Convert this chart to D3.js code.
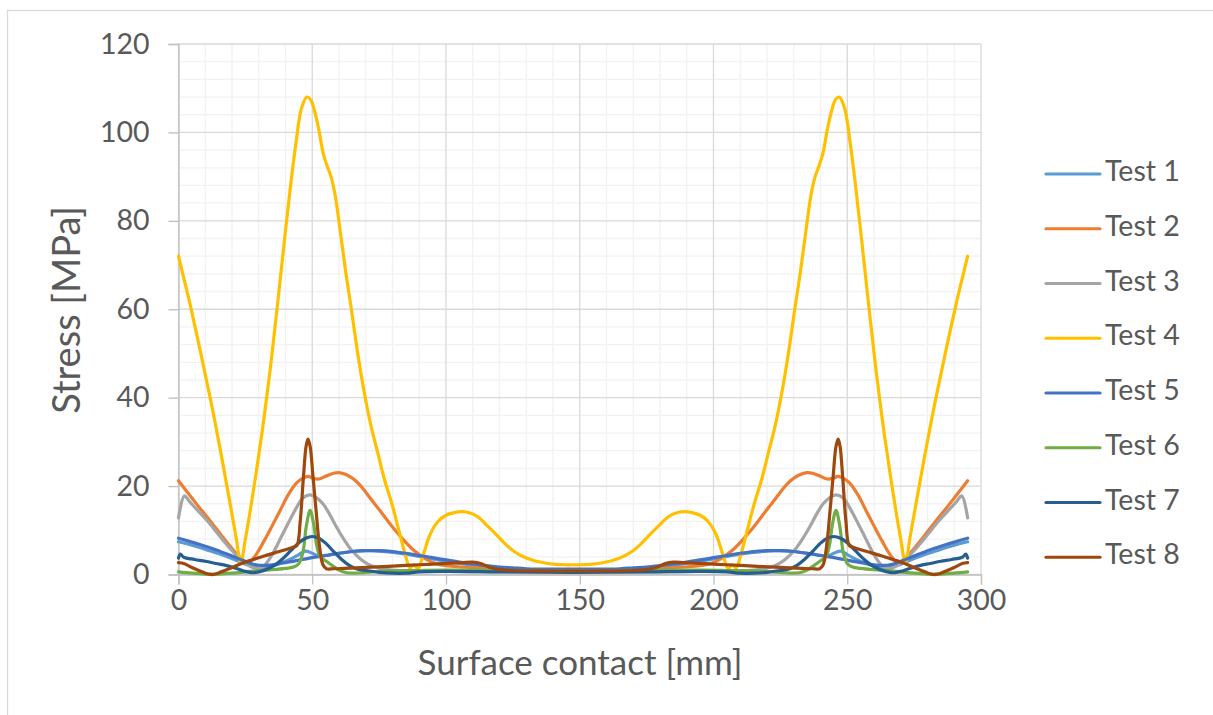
<!DOCTYPE html>
<html><head><meta charset="utf-8">
<script src="https://cdn.jsdelivr.net/npm/d3@7"></script>
<style>body{margin:0;background:#fff;} text{font-family:Lato,"Open Sans",sans-serif;fill:#595959;}</style>
</head><body>
<svg id="chart" width="1213" height="715"></svg>
<script>
const seriesNames = ["Test 1","Test 2","Test 3","Test 4","Test 5","Test 6","Test 7","Test 8"];
const seriesColors = ["#5B9BD5","#ED7D31","#A5A5A5","#FFC000","#4472C4","#70AD47","#255E91","#9E480E"];
const xTicks = [0,50,100,150,200,250,300];
const yTicks = [0,20,40,60,80,100,120];
const xTitle = "Surface contact [mm]";
const yTitle = "Stress [MPa]";

const test1 = [[0,7.4],[4,6.8],[8,6.1],[12,5.3],[16,4.5],[20,3.6],[24,2.6],[27,1.9],[30,1.5],[34,1.8],[38,2.5],[42,3.5],[45,4.5],[47.5,5.3],[50,4.8],[52.5,4.2],[56,4.4],[60,4.8],[65,5.2],[70,5.4],[75,5.3],[80,5],[85,4.6],[90,4.1],[95,3.5],[100,3],[105,2.5],[110,2.1],[115,1.7],[120,1.4],[125,1.2],[130,1],[140,0.9],[147.5,0.9],
[155,0.9],[165,1],[170,1.2],[175,1.4],[180,1.7],[185,2.1],[190,2.5],[195,3],[200,3.5],[205,4.1],[210,4.6],[215,5],[220,5.3],[225,5.4],[230,5.2],[235,4.8],[239,4.4],[242.5,4.2],[245,4.8],[247.5,5.3],[250,4.5],[253,3.5],[257,2.5],[261,1.8],[265,1.5],[268,1.9],[271,2.6],[275,3.6],[279,4.5],[283,5.3],[287,6.1],[291,6.8],[295,7.4]];

const test2 = [[0,21.2],[4,18.1],[8,15],[12,12],[16,8.9],[20,5.9],[23,3.8],[26,2.6],[29,4.5],[32,7.6],[35,11],[38,14.5],[41,18],[44,20.6],[46.5,21.8],[48.5,22.2],[50.5,21.7],[52.5,21.6],[55,22.2],[58,22.9],[60.5,23],[63,22.5],[66,21.3],[69,19.4],[72,17],[75,14.7],[78,12.3],[81,10],[84,7.9],[87,6],[90,4.5],[93,3.3],[96,2.5],[100,2],[106,1.7],[112,1.5],[120,1.2],[130,1],[140,0.9],[147.5,0.9],
[155,0.9],[165,1],[175,1.2],[183,1.5],[189,1.7],[195,2],[199,2.5],[202,3.3],[205,4.5],[208,6],[211,7.9],[214,10],[217,12.3],[220,14.7],[223,17],[226,19.4],[229,21.3],[232,22.5],[234.5,23],[237,22.9],[240,22.2],[242.5,21.6],[244.5,21.7],[246.5,22.2],[248.5,21.8],[251,20.6],[254,18],[257,14.5],[260,11],[263,7.6],[266,4.5],[269,2.6],[272,3.8],[275,5.9],[279,8.9],[283,12],[287,15],[291,18.1],[295,21.2]];

const test3 = [[0,12.8],[2.2,17.8],[4,16.6],[7,14.6],[11,12],[15,9],[18,6.8],[21,4.8],[24,3.2],[27,1.8],[29.5,1.3],[32,2],[35,4.5],[38,8],[41,11.6],[44,15],[46.5,17.3],[49,18],[51.5,17.4],[54,16],[56.5,13.6],[59,10.8],[62,7.8],[65,5.3],[68,3.5],[71,2.3],[75,1.4],[80,1],[90,0.8],[100,0.7],[120,0.6],[147.5,0.5],
[175,0.6],[195,0.7],[205,0.8],[215,1],[220,1.4],[224,2.3],[227,3.5],[230,5.3],[233,7.8],[236,10.8],[238.5,13.6],[241,16],[243.5,17.4],[246,18],[248.5,17.3],[251,15],[254,11.6],[257,8],[260,4.5],[263,2],[265.5,1.3],[268,1.8],[271,3.2],[274,4.8],[277,6.8],[280,9],[284,12],[288,14.6],[291,16.6],[292.8,17.8],[295,12.8]];

const test4 = [[0,72],[2,67],[4,62],[8,51],[12,39.5],[16,27],[19,17],[21.5,8.5],[23.3,2.6],[25,8],[27.5,17],[30,27],[32,35.5],[34.5,47.5],[37,61],[39.5,75],[42,88.5],[44,98],[46,105.5],[48,108],[49.5,107.3],[51,104.5],[52.5,100.5],[54,95.5],[55.5,92.5],[57,90],[58.5,86],[60.5,77.5],[62.5,68.5],[64.5,60.5],[67,50],[69.5,41],[72,33.5],[74.5,27.5],[77,21.5],[80,15.5],[83,8.5],[85,4],[86.5,1.5],[88,2.2],[89.5,1.3],[91.5,4.5],[94,9],[97,12],[100,13.4],[103,14],[106,14.2],[109,13.9],[112,13],[115.5,11],[119,8.9],[122,7],[125.5,5.2],[129,4],[133,3.1],[137,2.6],[141,2.3],[144.5,2.2],[147.5,2.2],
[150.5,2.2],[154,2.3],[158,2.6],[162,3.1],[166,4],[169.5,5.2],[173,7],[176,8.9],[179.5,11],[183,13],[186,13.9],[189,14.2],[192,14],[195,13.4],[198,12],[201,9],[203.5,4.5],[205.5,1.3],[207,2.2],[208.5,1.5],[210,4],[212,8.5],[215,15.5],[218,21.5],[220.5,27.5],[223,33.5],[225.5,41],[228,50],[230.5,60.5],[232.5,68.5],[234.5,77.5],[236.5,86],[238,90],[239.5,92.5],[241,95.5],[242.5,100.5],[244,104.5],[245.5,107.3],[247,108],[249,105.5],[251,98],[253,88.5],[255.5,75],[258,61],[260.5,47.5],[263,35.5],[265,27],[267.5,17],[270,8],[271.7,2.6],[273.5,8.5],[276,17],[279,27],[283,39.5],[287,51],[291,62],[293,67],[295,72]];

const test5 = [[0,8.2],[4,7.5],[8,6.8],[12,6],[16,5.1],[20,4.2],[24,3.2],[27,2.5],[30,2.1],[34,2.1],[38,2.5],[42,2.9],[46,3.4],[50,3.8],[55,4.3],[60,4.8],[65,5.2],[70,5.4],[75,5.4],[80,5.2],[85,4.8],[90,4.3],[95,3.8],[100,3.3],[105,2.8],[110,2.4],[115,2],[120,1.7],[125,1.5],[130,1.3],[140,1.2],[147.5,1.2],
[155,1.2],[165,1.3],[170,1.5],[175,1.7],[180,2],[185,2.4],[190,2.8],[195,3.3],[200,3.8],[205,4.3],[210,4.8],[215,5.2],[220,5.4],[225,5.4],[230,5.2],[235,4.8],[240,4.3],[245,3.8],[249,3.4],[253,2.9],[257,2.5],[261,2.1],[265,2.1],[268,2.5],[271,3.2],[275,4.2],[279,5.1],[283,6],[287,6.8],[291,7.5],[295,8.2]];

const test6 = [[0,0.6],[5,0.3],[10,0.1],[15,0.1],[20,0.3],[25,0.6],[30,0.9],[35,1.1],[40,1.4],[43,1.7],[45,2.5],[46.5,5],[47.8,11],[49.2,14.5],[50.5,11.5],[51.7,6.5],[53,4],[55,3.1],[57.5,2],[60,1],[63,0.4],[66,0.3],[70,0.5],[80,0.8],[90,0.9],[100,1],[110,1],[120,0.9],[130,0.8],[147.5,0.8],
[165,0.8],[175,0.9],[185,1],[195,1],[205,0.9],[215,0.8],[225,0.5],[229,0.3],[232,0.4],[235,1],[237.5,2],[240,3.1],[242,4],[243.3,6.5],[244.5,11.5],[245.8,14.5],[247.2,11],[248.5,5],[250,2.5],[252,1.7],[255,1.4],[260,1.1],[265,0.9],[270,0.6],[275,0.3],[280,0.1],[285,0.1],[290,0.3],[295,0.6]];

const test7 = [[0,3.7],[0.7,4.6],[2,3.9],[6,3.4],[10,3],[14,2.5],[18,2],[22,1.3],[25,0.7],[27.5,0.4],[30,0.6],[33,1.2],[36,2.1],[39,3.6],[42,5.4],[45,7.2],[47.5,8.2],[50,8.6],[52.5,8.2],[55,7.1],[58,5.2],[61,3.4],[64,2],[67,1.2],[70,0.9],[75,0.5],[80,0.3],[85,0.3],[90,0.6],[100,0.7],[120,0.6],[147.5,0.5],
[175,0.6],[195,0.7],[205,0.6],[210,0.3],[215,0.3],[220,0.5],[225,0.9],[228,1.2],[231,2],[234,3.4],[237,5.2],[240,7.1],[242.5,8.2],[245,8.6],[247.5,8.2],[250,7.2],[253,5.4],[256,3.6],[259,2.1],[262,1.2],[265,0.6],[267.5,0.4],[270,0.7],[273,1.3],[277,2],[281,2.5],[285,3],[289,3.4],[293,3.9],[294.3,4.6],[295,3.7]];

const test8 = [[0,2.7],[2,2.5],[5,1.6],[8,0.8],[11,0.1],[13,0],[16,0.6],[20,1.6],[24,2.6],[28,3.4],[32,4.2],[36,4.9],[40,5.6],[43,6.2],[44.3,6.6],[45.5,12],[46.7,22],[47.7,29],[48.4,30.6],[49.2,29],[50.3,22],[51.5,14],[52.7,6.5],[54,2.2],[55.3,1.3],[58,1.3],[62,1.4],[70,1.6],[80,1.9],[90,2.2],[100,2.5],[106,2.7],[110,2.8],[113,2.5],[116,1.7],[119,1.2],[125,0.9],[135,0.8],[147.5,0.8],
[160,0.8],[170,0.9],[176,1.2],[179,1.7],[182,2.5],[185,2.8],[189,2.7],[195,2.5],[205,2.2],[215,1.9],[225,1.6],[233,1.4],[237,1.3],[239.7,1.3],[241,2.2],[242.3,6.5],[243.5,14],[244.7,22],[245.8,29],[246.6,30.6],[247.3,29],[248.3,22],[249.5,12],[250.7,6.6],[252,6.2],[255,5.6],[259,4.9],[263,4.2],[267,3.4],[271,2.6],[275,1.6],[279,0.6],[282,0],[284,0.1],[287,0.8],[290,1.6],[293,2.5],[295,2.7]];

const seriesData = [test1,test2,test3,test4,test5,test6,test7,test8];

const svg = d3.select("#chart");
const L = 178.5, R = 981, T = 44, B = 574.5;
const x = d3.scaleLinear().domain([0,300]).range([L,R]);
const y = d3.scaleLinear().domain([0,120]).range([B,T]);

svg.append("rect").attr("x",7.5).attr("y",10.5).attr("width",1220).attr("height",720)
  .attr("fill","none").attr("stroke","#D9D9D9").attr("stroke-width",1.3);

const g = svg.append("g");
g.selectAll(".mx").data(d3.range(10,300,10).filter(v=>v%50!==0)).join("line")
  .attr("x1",d=>x(d)).attr("x2",d=>x(d)).attr("y1",T).attr("y2",B)
  .attr("stroke","#F2F2F2").attr("stroke-width",1.3);
g.selectAll(".my").data(d3.range(4,120,4).filter(v=>v%20!==0)).join("line")
  .attr("y1",d=>y(d)).attr("y2",d=>y(d)).attr("x1",L).attr("x2",R)
  .attr("stroke","#F2F2F2").attr("stroke-width",1.3);
g.selectAll(".Mx").data(xTicks).join("line")
  .attr("x1",d=>x(d)).attr("x2",d=>x(d)).attr("y1",T).attr("y2",B)
  .attr("stroke","#D9D9D9").attr("stroke-width",1.3);
g.selectAll(".My").data(yTicks).join("line")
  .attr("y1",d=>y(d)).attr("y2",d=>y(d)).attr("x1",L).attr("x2",R)
  .attr("stroke","#D9D9D9").attr("stroke-width",1.3);

const xAxis = d3.axisBottom(x).tickValues(xTicks).tickSize(10).tickPadding(5);
const yAxis = d3.axisLeft(y).tickValues(yTicks).tickSize(10).tickPadding(19);
const xa = svg.append("g").attr("transform",`translate(0,${B})`).call(xAxis);
const ya = svg.append("g").attr("transform",`translate(${L},0)`).call(yAxis);
[xa,ya].forEach(a=>{
  a.select(".domain").attr("stroke","#BFBFBF").attr("stroke-width",1.3);
  a.selectAll(".tick line").attr("stroke","#BFBFBF").attr("stroke-width",1.3);
  a.selectAll(".tick text").attr("font-family","Lato, sans-serif").attr("font-size",28.5).attr("fill","#595959");
});

const line = d3.line().x(d=>x(d[0])).y(d=>y(d[1])).curve(d3.curveCatmullRom.alpha(0.5));
const lg = svg.append("g");
seriesData.forEach((s,i)=>{
  lg.append("path").attr("d",line(s)).attr("fill","none")
    .attr("stroke",seriesColors[i]).attr("stroke-width",3.2)
    .attr("stroke-linejoin","round").attr("stroke-linecap","round");
});

svg.append("text").attr("x",580).attr("y",666).attr("text-anchor","middle")
  .attr("dominant-baseline","middle").attr("font-size",35).text(xTitle);
svg.append("text").attr("transform","translate(70,310) rotate(-90)").attr("text-anchor","middle")
  .attr("dominant-baseline","middle").attr("font-size",38).text(yTitle);

const leg = svg.append("g");
seriesNames.forEach((n,i)=>{
  const yy = 174 + i*54.75;
  leg.append("line").attr("x1",1046).attr("x2",1100).attr("y1",yy).attr("y2",yy)
    .attr("stroke",seriesColors[i]).attr("stroke-width",3.2).attr("stroke-linecap","round");
  leg.append("text").attr("x",1105).attr("y",yy).attr("dominant-baseline","middle")
    .attr("font-size",28.5).text(n);
});
</script>
</body></html>
